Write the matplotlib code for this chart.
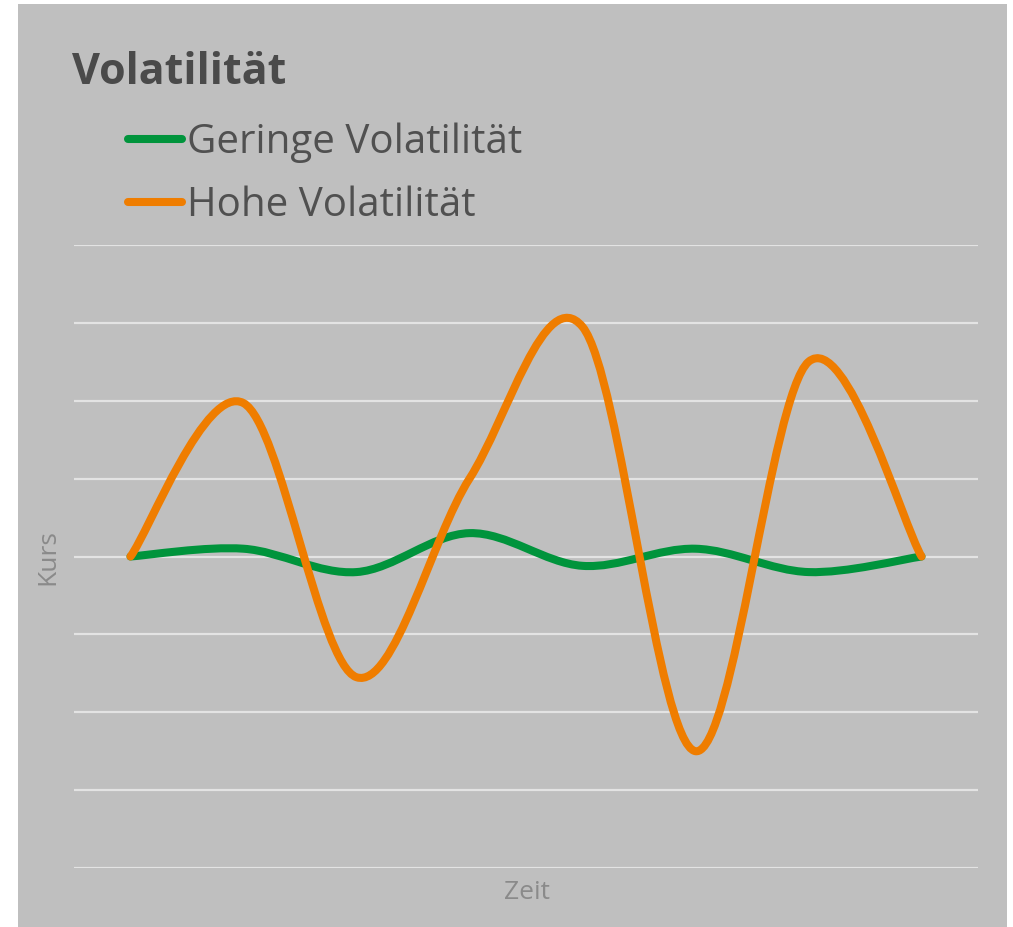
import matplotlib.pyplot as plt
import numpy as np
from matplotlib.path import Path
from matplotlib.patches import PathPatch, Rectangle
from matplotlib.lines import Line2D

# Data (grid units, 0 = start level)
zeit = [0, 1, 2, 3, 4, 5, 6, 7]
gering = [0, 0.1, -0.2, 0.3, -0.12, 0.1, -0.2, 0]
hoch = [0, 1.97, -1.55, 1.0, 2.95, -2.5, 2.5, 0]
series_names = ["Geringe Volatilität", "Hohe Volatilität"]
colors = ["#00943c", "#ef7d00"]

W, H = 1013, 928
fig = plt.figure(figsize=(W / 100, H / 100), dpi=100, facecolor="white")

# gray panel
fig.add_artist(Rectangle((18 / W, 0), (1007 - 18) / W, (928 - 5) / H,
                         transform=fig.transFigure, facecolor="#bfbfbf",
                         edgecolor="none", zorder=0))

ax = fig.add_axes([74 / W, (928 - 869) / H, (978 - 74) / W, (869 - 246) / H])
ax.set_facecolor("none")
ax.set_xlim(-0.5, 7.5)
ax.set_ylim(-4, 4)
for y in range(-4, 5):
    ax.axhline(y, color="#e3e3e3", lw=1.6, zorder=1)
for s in ax.spines.values():
    s.set_visible(False)
ax.set_xticks([])
ax.set_yticks([])


# smoothed line like a spreadsheet chart (cubic bezier through the points)
def smooth_path(xs, ys, t=1 / 6):
    pts = np.column_stack([xs, ys]).astype(float)
    n = len(pts)
    verts = [pts[0]]
    codes = [Path.MOVETO]
    for i in range(n - 1):
        p0 = pts[max(i - 1, 0)]
        p1 = pts[i]
        p2 = pts[i + 1]
        p3 = pts[min(i + 2, n - 1)]
        c1 = p1 + (p2 - p0) * t
        c2 = p2 - (p3 - p1) * t
        verts += [c1, c2, p2]
        codes += [Path.CURVE4] * 3
    return Path(verts, codes)


for ys, c, z in [(gering, colors[0], 3), (hoch, colors[1], 4)]:
    patch = PathPatch(smooth_path(zeit, ys), facecolor="none", edgecolor=c,
                      lw=5.8, capstyle="round", joinstyle="round", zorder=z)
    ax.add_patch(patch)

# title
fig.text(72 / W, 1 - 84 / H, "Volatilität", fontsize=31, fontweight="bold",
         family="Open Sans", color="#4a4a4a", ha="left", va="baseline")

# legend
for i, (name, c) in enumerate(zip(series_names, colors)):
    yy = 1 - (140 + 63 * i) / H
    fig.add_artist(Line2D([128 / W, 182 / W], [yy, yy], transform=fig.transFigure,
                          color=c, lw=5.8, solid_capstyle="round"))
    fig.text(187 / W, 1 - (153 + 63 * i) / H, name, fontsize=29,
             family="Open Sans", color="#505050", ha="left", va="baseline")

# axis titles
fig.text(527 / W, 1 - 893 / H, "Zeit", fontsize=19, family="Open Sans",
         color="#8a8a8a", ha="center", va="center")
fig.text(48 / W, 1 - 557 / H, "Kurs", fontsize=19, family="Open Sans",
         color="#8a8a8a", ha="center", va="center", rotation=90)

fig.savefig("out.png", dpi=100, facecolor="white")
